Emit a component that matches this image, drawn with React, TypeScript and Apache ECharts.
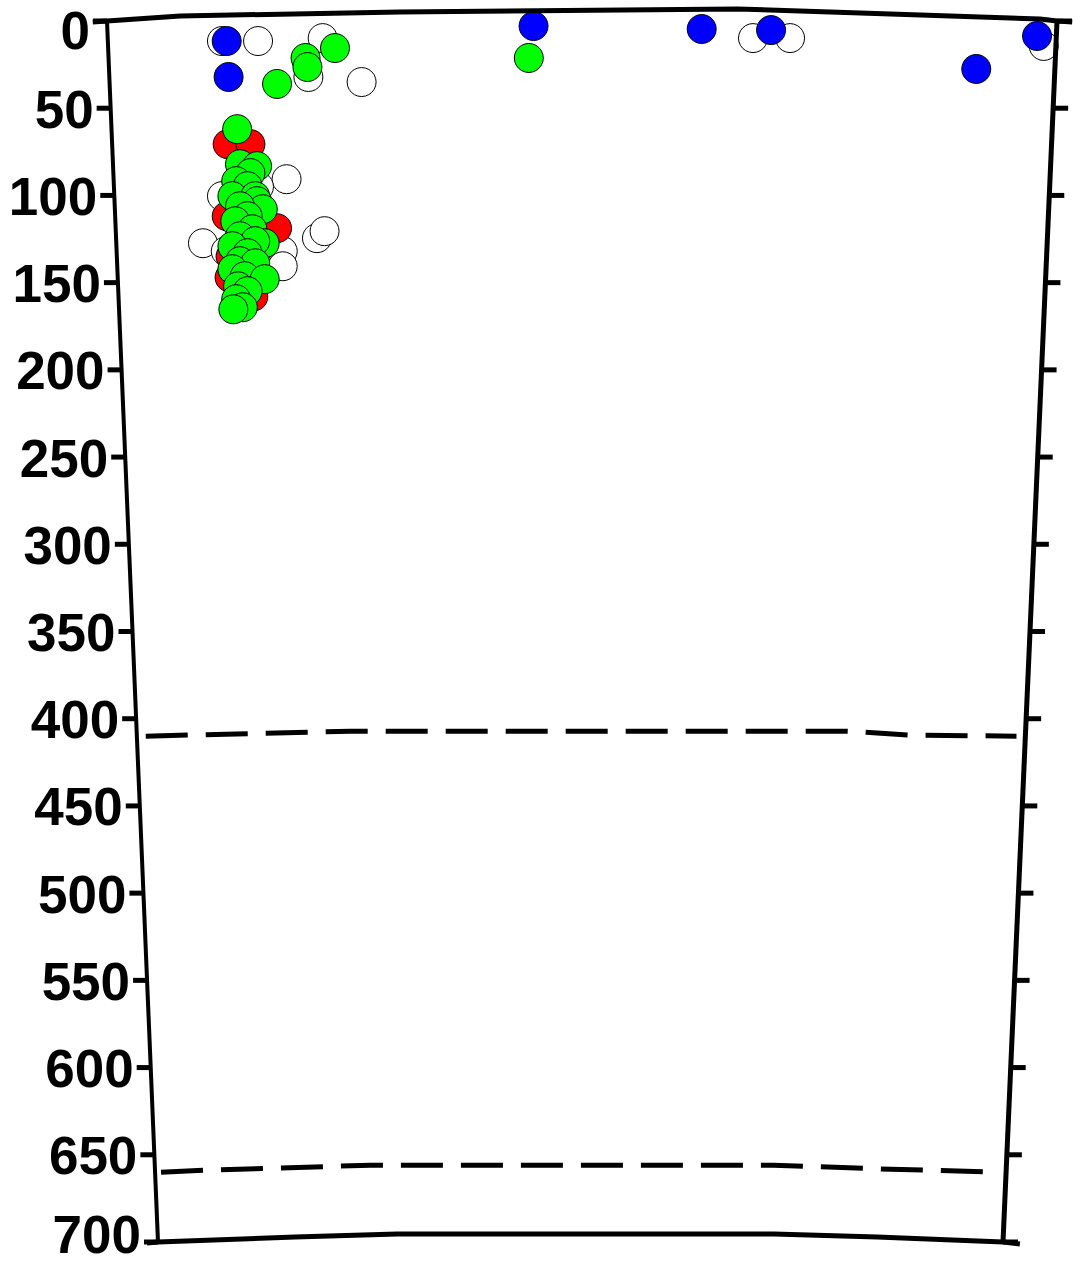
import React, { useEffect, useRef } from "react";
import * as echarts from "echarts";

// ---- data (x: distance units 0..100, y: depth km) ----
const depthTicks = [0, 50, 100, 150, 200, 250, 300, 350, 400, 450, 500, 550, 600, 650, 700];
const boundaryDepths = [410, 660];

const whiteEvents: [number, number][] = [
  [12.1, 11.5], [15.9, 11.5], [22.7, 9.8], [21.2, 32.1], [26.8, 35.0],
  [68.0, 9.8], [71.9, 9.8], [98.6, 14.3],
  [18.9, 90.7], [12.1, 100.4], [10.1, 127.4], [22.1, 124.5], [22.9, 120.5],
  [18.5, 132.0], [18.5, 140.6], [12.5, 132.0], [16.0, 95.0],
];
const redEvents: [number, number][] = [
  [12.7, 70.6], [15.1, 70.6], [12.6, 111.9], [17.9, 118.8], [15.4, 158.0],
  [13.0, 135.0], [12.9, 147.0],
];
const greenEvents: [number, number][] = [
  [20.9, 21.2], [21.1, 26.4], [24.0, 15.5], [17.9, 36.1], [44.4, 21.2],
  [13.7, 62.0], [14.0, 82.1], [15.8, 83.2], [15.1, 87.2], [13.6, 91.8],
  [14.8, 94.7], [13.2, 100.4], [15.6, 100.4], [15.8, 103.3], [16.4, 107.9],
  [14.0, 106.2], [14.8, 111.9], [13.5, 114.8], [15.3, 119.4], [14.0, 123.4],
  [16.6, 127.4], [15.6, 126.2], [13.2, 129.1], [14.8, 133.1], [14.0, 137.7],
  [15.6, 138.9], [13.2, 142.3], [14.5, 146.3], [16.6, 148.0], [13.8, 152.1],
  [14.8, 154.9], [13.6, 159.5], [14.3, 164.1], [13.3, 165.3],
];
const blueEvents: [number, number][] = [
  [12.6, 11.5], [12.8, 32.1], [44.9, 2.9], [62.6, 4.6], [69.9, 5.2],
  [91.5, 27.5], [97.9, 8.6],
];

// ---- layout / style constants ----
const X_MIN = 0;
const X_MAX = 100;
const D_MIN = 0;
const D_MAX = 700;
const LEFT_SKEW = 51;
const RIGHT_SKEW = 54;
const CHART_H = 1265;
const LABEL_SIZE = 53;
const FONT = "'Liberation Sans', Arial, Helvetica, sans-serif";
// [fraction across frame, vertical pixel offset]
const topBend: [number, number][] = [
  [-0.015, 1], [0, 0], [0.077, -5], [0.308, -9], [0.664, -12], [0.793, -8], [0.982, -2], [1.0, 0], [1.016, 1],
];
const bottomBend: [number, number][] = [
  [-0.013, 1], [0, 0], [0.162, -5], [0.283, -8], [0.729, -8], [0.851, -5], [1.0, 0], [1.02, 2],
];
const dashBends: [number, number][][] = [
  [[0.01, 0], [0.1, -2], [0.24, -5], [0.8, -5], [0.87, -1], [0.99, 0]],
  [[0.007, 0], [0.058, -2], [0.253, -7], [0.727, -7], [0.864, -3], [0.993, 0]],
];

const scatterSeries = (name: string, data: [number, number][], color: string) => ({
  name,
  type: "scatter",
  data,
  symbol: "circle",
  symbolSize: 29,
  clip: false,
  itemStyle: { color, borderColor: "#000", borderWidth: 1, opacity: 1 },
  emphasis: { disabled: true },
});

export default function App() {
  const ref = useRef<HTMLDivElement>(null);
  useEffect(() => {
    if (!ref.current) return;
    const chart = echarts.init(ref.current, undefined, { renderer: "svg" });
    const frameRender = (params: any, api: any) => {
      const L = (v: number) => api.coord([X_MIN, v])[0] + (LEFT_SKEW * v) / D_MAX;
      const R = (v: number) => api.coord([X_MAX, v])[0] - (RIGHT_SKEW * v) / D_MAX;
      const Y = (v: number) => api.coord([X_MIN, v])[1];
      const bent = (v: number, bends: [number, number][]) =>
        bends.map(([t, dy]) => [L(v) + t * (R(v) - L(v)), Y(v) + dy]);
      const lineStyle = { stroke: "#000", lineWidth: 5, fill: null, lineJoin: "round" };
      const children: any[] = [];
      children.push({
        type: "polyline",
        shape: { points: [[L(D_MIN), Y(D_MIN)], [L(D_MAX), Y(D_MAX)]] },
        style: { ...lineStyle, lineWidth: 4 },
      });
      children.push({
        type: "polyline",
        shape: { points: [[R(D_MIN), Y(D_MIN)], [R(D_MAX), Y(D_MAX)]] },
        style: lineStyle,
      });
      children.push({ type: "polyline", shape: { points: bent(D_MIN, topBend) }, style: lineStyle });
      children.push({ type: "polyline", shape: { points: bent(D_MAX, bottomBend) }, style: lineStyle });
      boundaryDepths.forEach((d, i) => {
        children.push({
          type: "polyline",
          shape: { points: bent(d, dashBends[i] || [[0, 0], [1, 0]]) },
          style: { stroke: "#000", lineWidth: 5, fill: null, lineDash: [42, 18] },
        });
      });
      const half = LABEL_SIZE * 0.58;
      depthTicks.forEach((d) => {
        const y = Y(d);
        const l = L(d);
        const r = R(d);
        children.push({
          type: "line",
          shape: { x1: l - 14, y1: y, x2: l, y2: y },
          style: { stroke: "#000", lineWidth: 5 },
        });
        children.push({
          type: "line",
          shape: { x1: r, y1: y, x2: r + 15, y2: y },
          style: { stroke: "#000", lineWidth: 5 },
        });
        const ly = Math.min(Math.max(y + 1, half), CHART_H - half);
        children.push({
          type: "text",
          style: {
            text: String(d),
            x: l - 17,
            y: ly,
            align: "right",
            verticalAlign: "middle",
            fontFamily: FONT,
            fontWeight: "bold",
            fontSize: LABEL_SIZE,
            fill: "#000",
          },
        });
      });
      return { type: "group", children };
    };
    chart.setOption({
      animation: false,
      backgroundColor: "#fff",
      grid: { left: 107, right: 16, top: 21, bottom: 23 },
      xAxis: { type: "value", min: X_MIN, max: X_MAX, show: false },
      yAxis: { type: "value", min: D_MIN, max: D_MAX, inverse: true, interval: 50, show: false },
      series: [
        scatterSeries("white", whiteEvents, "#ffffff"),
        scatterSeries("red", redEvents, "#ff0000"),
        scatterSeries("green", greenEvents, "#00ff00"),
        scatterSeries("blue", blueEvents, "#0000ff"),
        {
          type: "custom",
          name: "frame",
          data: [[X_MIN, D_MIN]],
          clip: false,
          z: 5,
          silent: true,
          renderItem: frameRender,
        },
      ],
    });
    return () => chart.dispose();
  }, []);
  return (
    <div
      ref={ref}
      style={{ position: "absolute", left: 0, top: 0, width: 1073, height: CHART_H, background: "#fff" }}
    />
  );
}
